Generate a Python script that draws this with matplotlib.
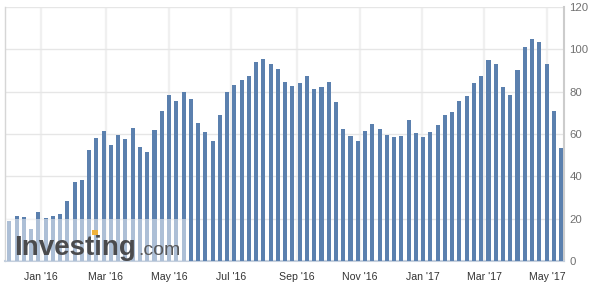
import matplotlib
matplotlib.use("Agg")
import matplotlib.pyplot as plt
from matplotlib.patches import Rectangle
import numpy as np

# Weekly values (Dec 2015 - May 2017)
values = [19.0, 21.3, 20.8, 15.1, 23.1, 20.3, 21.3, 22.2, 28.3, 37.3,
          38.3, 52.4, 58.1, 61.4, 54.8, 59.5, 57.6, 62.8, 53.9, 51.5,
          61.9, 70.9, 78.4, 75.6, 79.8, 76.5, 65.2, 60.9, 56.7, 69.0,
          79.8, 83.1, 85.5, 87.4, 94.0, 95.4, 93.1, 90.7, 84.6, 82.7,
          84.1, 87.4, 81.3, 82.2, 84.6, 75.1, 62.4, 59.1, 56.7, 61.4,
          64.7, 62.4, 59.5, 58.6, 59.1, 66.6, 60.5, 58.6, 60.9, 64.3,
          69.0, 70.4, 75.6, 78.0, 84.1, 87.4, 95.0, 93.1, 82.2, 78.4,
          90.2, 101.1, 104.9, 103.5, 93.1, 70.9, 53.4]
month_labels = ["Jan '16", "Mar '16", "May '16", "Jul '16", "Sep '16",
                "Nov '16", "Jan '17", "Mar '17", "May '17"]
month_pos = [4.3, 13.3, 22.0, 30.6, 39.6, 48.3, 56.9, 65.4, 74.1]
y_ticks = [0, 20, 40, 60, 80, 100, 120]

fig = plt.figure(figsize=(6, 2.88), dpi=100)
W, H = 600, 288
ax = fig.add_axes([5 / W, 27 / H, 558.7 / W, 254 / H])

x = np.arange(len(values))
ax.bar(x, values, width=0.56, color="#5b80ae", zorder=3)

ax.set_xlim(-0.59, 76.36)
ax.set_ylim(0, 120)

ax.set_xticks(month_pos)
ax.set_xticklabels(month_labels, fontfamily="Liberation Sans", fontsize=7.6,
                   color="#333333")
ax.tick_params(axis="x", length=0, pad=8)
ax.xaxis.grid(True, color="#f0f0f0", lw=1.7, zorder=1)

ax.set_yticks(y_ticks)
ax.yaxis.grid(True, color="#e6e6e6", lw=1.0, zorder=1)
ax.set_axisbelow(True)
ax.yaxis.tick_right()
ax.tick_params(axis="y", length=0, pad=4, labelsize=8.2, labelcolor="#707070")
for lab in ax.get_yticklabels():
    lab.set_fontfamily("Liberation Sans")

ax.spines["top"].set_visible(False)
ax.spines["left"].set_color("#d6d6d6")
ax.spines["left"].set_linewidth(1.0)
ax.spines["right"].set_color("#cccccc")
ax.spines["right"].set_linewidth(1.5)
ax.spines["bottom"].set_color("#c4cfdd")
ax.spines["bottom"].set_linewidth(1.5)

# Watermark
fig.patches.append(Rectangle((6 / W, 27 / H), 183 / W, 42 / H,
                             transform=fig.transFigure, facecolor="white",
                             alpha=0.5, edgecolor="none", zorder=5))
fig.text(14 / W, 33 / H, "Investing", fontfamily="Liberation Sans",
         fontweight="bold", fontsize=20, color="#4b4b4d", zorder=6,
         va="baseline")
fig.text(138 / W, 33 / H, ".com", fontfamily="Liberation Sans",
         fontsize=14, color="#58585a", zorder=6, va="baseline")
fig.patches.append(Rectangle((92 / W, 53 / H), 6 / W, 5 / H,
                             transform=fig.transFigure, facecolor="#f0b23c",
                             edgecolor="none", zorder=7))

fig.savefig("out.png", dpi=100)
